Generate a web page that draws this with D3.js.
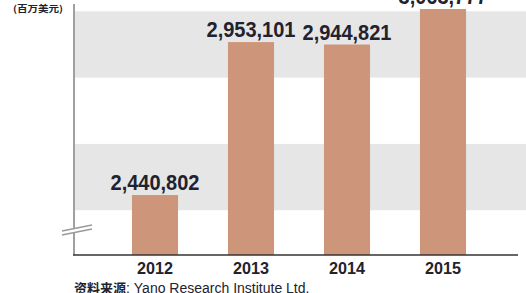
<!DOCTYPE html>
<html><head><meta charset="utf-8">
<script src="https://cdn.jsdelivr.net/npm/d3@7"></script>
<style>html,body{margin:0;padding:0;background:#fff;}svg{display:block;}</style>
</head><body>
<script>
const years = ["2012", "2013", "2014", "2015"];
const values = [2440802, 2953101, 2944821, 3063777];
const valueLabels = ["2,440,802", "2,953,101", "2,944,821", "3,063,777"];
const bandEdges = [[2390000, 2612000], [2834000, 3056000]];
const unitLabel = "(百万美元)";
const sourcePrefix = "资料来源";
const sourceName = ": Yano Research Institute Ltd.";

const W = 526, H = 293;
const svg = d3.select("body").append("svg").attr("width", W).attr("height", H);

const x = d3.scaleBand().domain(years).range([107, 491]).paddingInner(0.52).paddingOuter(0.26);
const y = d3.scaleLinear().domain([2240000, 3094000]).range([255, 0]);

// grey bands
svg.selectAll("rect.band").data(bandEdges).enter().append("rect")
  .attr("class", "band")
  .attr("x", 75).attr("width", W - 75)
  .attr("y", d => y(d[1])).attr("height", d => y(d[0]) - y(d[1]))
  .attr("fill", "#e6e6e6");

// bars
svg.selectAll("rect.bar").data(values).enter().append("rect")
  .attr("class", "bar")
  .attr("x", (d, i) => x(years[i])).attr("width", x.bandwidth())
  .attr("y", d => y(d)).attr("height", d => y.range()[0] - y(d))
  .attr("fill", "#cd957a");

// value labels
svg.selectAll("text.val").data(values).enter().append("text")
  .attr("class", "val")
  .attr("x", (d, i) => x(years[i]) + x.bandwidth() / 2)
  .attr("y", d => y(d) - 5)
  .attr("text-anchor", "middle")
  .attr("font-family", "Liberation Sans, Arial, sans-serif")
  .attr("font-size", 22).attr("font-weight", "bold")
  .attr("textLength", 89).attr("lengthAdjust", "spacingAndGlyphs")
  .attr("fill", "#22222e")
  .text((d, i) => valueLabels[i]);

// y axis line (grey)
svg.append("line").attr("x1", 74).attr("x2", 74).attr("y1", 4).attr("y2", 255)
  .attr("stroke", "#a0a0a0").attr("stroke-width", 2);

// axis break
const brk = svg.append("g");
brk.append("path").attr("d", "M62,231 L92,225 L92,229 L62,235 Z").attr("fill", "#fff");
brk.append("line").attr("x1", 62).attr("y1", 231).attr("x2", 92).attr("y2", 225)
  .attr("stroke", "#9a9a9a").attr("stroke-width", 1.3);
brk.append("line").attr("x1", 62).attr("y1", 235).attr("x2", 92).attr("y2", 229)
  .attr("stroke", "#9a9a9a").attr("stroke-width", 1.3);

// x axis
const xAxis = svg.append("g").attr("transform", "translate(0,255)")
  .call(d3.axisBottom(x).tickSize(0).tickPadding(7));
xAxis.select(".domain").remove();
xAxis.selectAll("text")
  .attr("font-family", "Liberation Sans, Arial, sans-serif")
  .attr("font-size", 17).attr("font-weight", "bold").attr("fill", "#22222e")
  .attr("textLength", 36).attr("lengthAdjust", "spacingAndGlyphs");
svg.append("line").attr("x1", 73).attr("x2", 518).attr("y1", 255).attr("y2", 255)
  .attr("stroke", "#333").attr("stroke-width", 1.6);

// unit label
svg.append("text").attr("x", 13).attr("y", 12)
  .attr("font-family", "Noto Sans CJK SC, sans-serif").attr("font-weight", "bold")
  .attr("font-size", 9).attr("fill", "#22222e")
  .attr("textLength", 50).attr("lengthAdjust", "spacingAndGlyphs")
  .text(unitLabel);

// source
const src = svg.append("text").attr("x", 74).attr("y", 293)
  .attr("font-family", "Liberation Sans, Noto Sans CJK SC, sans-serif")
  .attr("font-size", 14).attr("fill", "#22222e");
src.append("tspan").attr("font-weight", "bold").attr("font-family", "Noto Sans CJK SC, sans-serif")
  .attr("font-size", 13).text(sourcePrefix);
src.append("tspan").text(sourceName);
</script>
</body></html>
